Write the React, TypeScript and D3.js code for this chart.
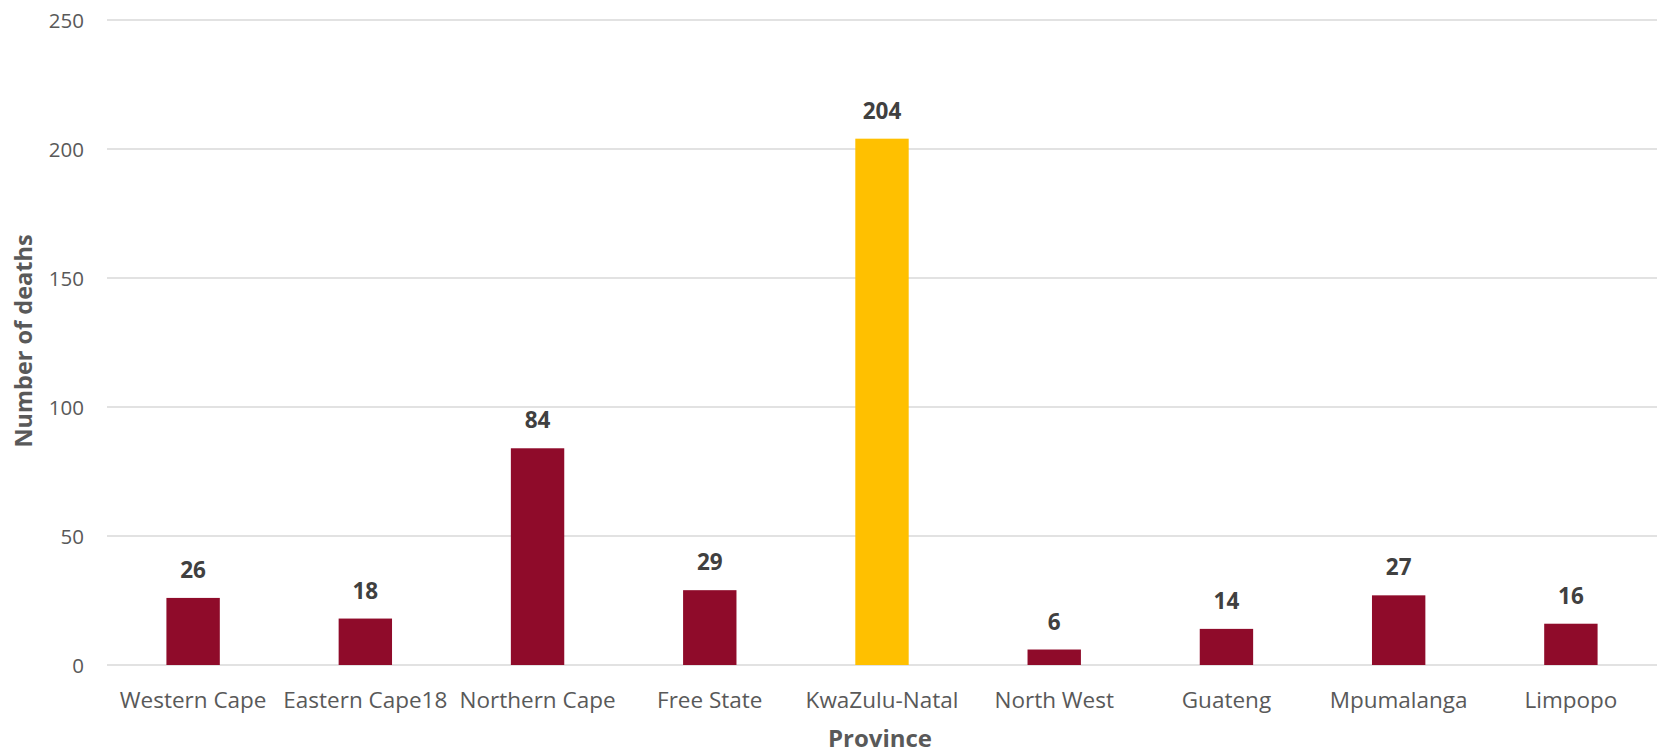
import React from "react";
import * as d3 from "d3";

const provinces = [
  "Western Cape",
  "Eastern Cape18",
  "Northern Cape",
  "Free State",
  "KwaZulu-Natal",
  "North West",
  "Guateng",
  "Mpumalanga",
  "Limpopo",
];
const deaths = [26, 18, 84, 29, 204, 6, 14, 27, 16];
const highlighted = ["KwaZulu-Natal"];
const yTicks = [0, 50, 100, 150, 200, 250];

const W = 1657;
const H = 755;
const FONT = "'Open Sans', sans-serif";

export default function App() {
  const x = d3
    .scaleBand<string>()
    .domain(provinces)
    .range([107, 1657])
    .paddingInner(0.69)
    .paddingOuter(0.345);
  const y = d3.scaleLinear().domain([0, 250]).range([665, 20]);

  return (
    <svg
      width={W}
      height={H}
      style={{ position: "absolute", left: 0, top: 0, background: "#fff" }}
      fontFamily={FONT}
    >
      {yTicks.map((t) => (
        <g key={t}>
          <line
            x1={107}
            x2={1657}
            y1={y(t)}
            y2={y(t)}
            stroke="#d9d9d9"
            strokeWidth={1.5}
          />
          <text
            x={84}
            y={y(t) + 7.5}
            textAnchor="end"
            fontSize={20.5}
            fill="#595959"
          >
            {t}
          </text>
        </g>
      ))}
      {provinces.map((p, i) => {
        const bx = x(p)!;
        const v = deaths[i];
        return (
          <g key={p}>
            <rect
              x={bx}
              y={y(v)}
              width={x.bandwidth()}
              height={y(0) - y(v)}
              fill={highlighted.includes(p) ? "#FFC000" : "#8F0B2A"}
            />
            <text
              x={bx + x.bandwidth() / 2}
              y={y(v) - 20}
              textAnchor="middle"
              fontSize={22.5}
              fontWeight={700}
              fill="#404040"
            >
              {v}
            </text>
            <text
              x={bx + x.bandwidth() / 2}
              y={708}
              textAnchor="middle"
              fontSize={22.5}
              fill="#595959"
            >
              {p}
            </text>
          </g>
        );
      })}
      <text
        x={880}
        y={747}
        textAnchor="middle"
        fontSize={24}
        fontWeight={700}
        fill="#595959"
      >
        Province
      </text>
      <text
        transform={`translate(32,341) rotate(-90)`}
        textAnchor="middle"
        fontSize={23.5}
        fontWeight={700}
        fill="#595959"
      >
        Number of deaths
      </text>
    </svg>
  );
}
